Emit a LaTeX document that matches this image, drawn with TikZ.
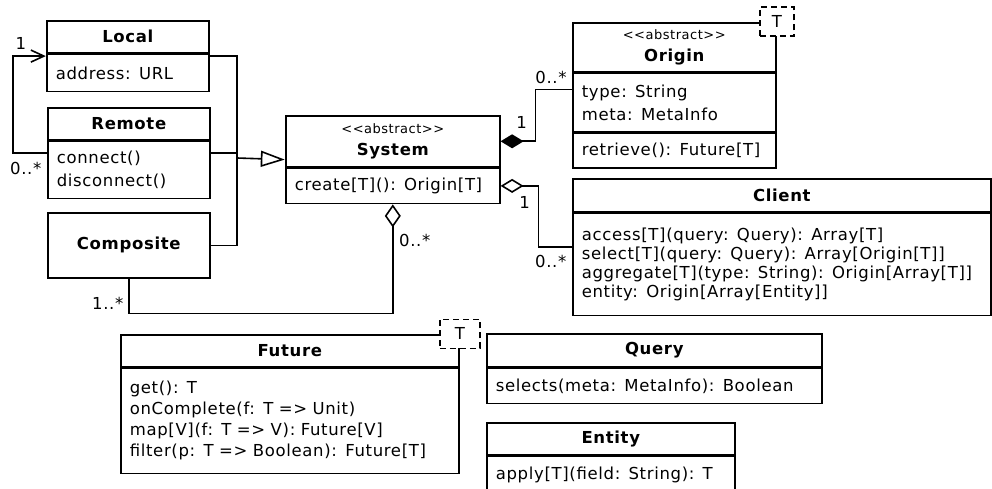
\documentclass[tikz,border=0pt]{standalone}
\usepackage{fontspec}
\setmainfont{DejaVu Sans}[LetterSpace=4]
\usetikzlibrary{positioning,fit,arrows.meta}

\newcommand{\umlstereo}[1]{{\fontsize{13}{15}\selectfont\mdseries <{}<#1>{}>}}

\tikzset{
	uml/.style={draw, line width=1.6pt, inner xsep=9pt, inner ysep=0pt, anchor=north west},
	head/.style={uml, align=center, text width=#1, font=\fontsize{16.5}{22}\selectfont\bfseries},
	body/.style={uml, align=left, text width=#1},
	outline/.style={inner sep=0pt},
	conn/.style={line width=1.6pt},
	mult/.style={inner sep=1pt},
	param/.style={draw, dash pattern=on 6pt off 4pt, fill=white, line width=1.6pt, inner sep=0pt, minimum height=29pt},
}

\begin{document}
\begin{tikzpicture}[x=1pt, y=-1pt, font=\fontsize{16.5}{21}\selectfont]
	\useasboundingbox (0,0) rectangle (992,489);

	%Local
	\node[head=144pt, minimum height=32] (local-h) at (46,20) {Local};
	\node[body=144pt, minimum height=37, below=0pt of local-h] (local-b) {address: URL};
	\node[outline, fit=(local-h)(local-b)] (local) {};

	%Remote
	\node[head=144pt, minimum height=32] (remote-h) at (47,107) {Remote};
	\node[body=144pt, minimum height=57, below=0pt of remote-h, font=\fontsize{16.5}{23}\selectfont] (remote-b) {connect()\\disconnect()};
	\node[outline, fit=(remote-h)(remote-b)] (remote) {};

	%Composite
	\node[head=144pt, minimum height=65] (composite) at (47,212) {Composite};

	%System
	\node[head=196pt, minimum height=51] (system-h) at (285,115) {\umlstereo{abstract}\\System};
	\node[body=196pt, minimum height=35, below=0pt of system-h] (system-b) {create[T](): Origin[T]};
	\node[outline, fit=(system-h)(system-b)] (system) {};

	%Origin
	\node[head=185pt, minimum height=49] (origin-h) at (572,22) {\umlstereo{abstract}\\Origin};
	\node[body=185pt, minimum height=58, below=0pt of origin-h, font=\fontsize{16.5}{23}\selectfont] (origin-a) {type: String\\meta: MetaInfo};
	\node[body=185pt, minimum height=35, below=0pt of origin-a] (origin-o) {retrieve(): Future[T]};
	\node[outline, fit=(origin-h)(origin-o)] (origin) {};
	\node[param, minimum width=34pt] (origin-t) at (origin.north east) {T};

	%Client
	\node[head=400pt, minimum height=33] (client-h) at (572,178) {Client};
	\node[body=400pt, minimum height=102, below=0pt of client-h, font=\fontsize{16.5}{19}\selectfont] (client-b) {access[T](query: Query): Array[T]\\select[T](query: Query): Array[Origin[T]]\\aggregate[T](type: String): Origin[Array[T]]\\entity: Origin[Array[Entity]]};
	\node[outline, fit=(client-h)(client-b)] (client) {};

	%Future
	\node[head=320pt, minimum height=32] (future-h) at (120,334) {Future};
	\node[body=320pt, minimum height=105, below=0pt of future-h] (future-b) {get(): T\\onComplete(f: T => Unit)\\map[V](f: T => V): Future[V]\\filter(p: T => Boolean): Future[T]};
	\node[outline, fit=(future-h)(future-b)] (future) {};
	\node[param, minimum width=40pt] (future-t) at (future.north east) {T};

	%Query
	\node[head=317pt, minimum height=33] (query-h) at (486,333) {Query};
	\node[body=317pt, minimum height=35, below=0pt of query-h] (query-b) {selects(meta: MetaInfo): Boolean};

	%Entity
	\node[head=230pt, minimum height=32] (entity-h) at (486,422) {Entity};
	\node[body=230pt, minimum height=38, below=0pt of entity-h] (entity-b) {apply[T](field: String): T};

	%Generalization
	\coordinate (gen) at (237,158);
	\draw[conn] (local.east) -| (gen);
	\draw[conn] (remote.east) -| (gen);
	\draw[conn] (composite.east) -| (gen);
	\draw[conn, -{Triangle[open, length=24pt, width=16pt]}] (gen) -- (system.west);

	%Associations
	\draw[conn, -{Straight Barb[length=13pt, width=12pt]}] (remote.west) -- ++(-34,0) |- (local.west);
	\draw[conn, {Diamond[length=23pt, width=14pt]}-] (system-h.east) -- ++(35,0) |- ([shift={(0,-13)}]origin-a.west);
	\draw[conn, {Diamond[open, length=23pt, width=14pt]}-] (system-b.east) -- ++(38,0) |- (client.west);
	\draw[conn, {Diamond[open, length=23pt, width=16pt]}-] (system.south) |- ([shift={(0,35)}]composite.south) -- (composite.south);

	%Multiplicities
	\node[mult, shift={(-25,-12.5)}] (m-local) at (local.west) {1};
	\node[mult, shift={(-21,15)}] (m-remote) at (remote.west) {0..*};
	\node[mult, shift={(-21,25)}] (m-composite) at (composite.south) {1..*};
	\node[mult, shift={(22,36)}] (m-system) at (system.south) {0..*};
	\node[mult, shift={(21,-18.5)}] (m-system-h) at (system-h.east) {1};
	\node[mult, shift={(-21,-25)}] (m-origin) at (origin-a.west) {0..*};
	\node[mult, shift={(24,16.5)}] (m-system-b) at (system-b.east) {1};
	\node[mult, shift={(-21,14.5)}] (m-client) at (client.west) {0..*};

\end{tikzpicture}
\end{document}
